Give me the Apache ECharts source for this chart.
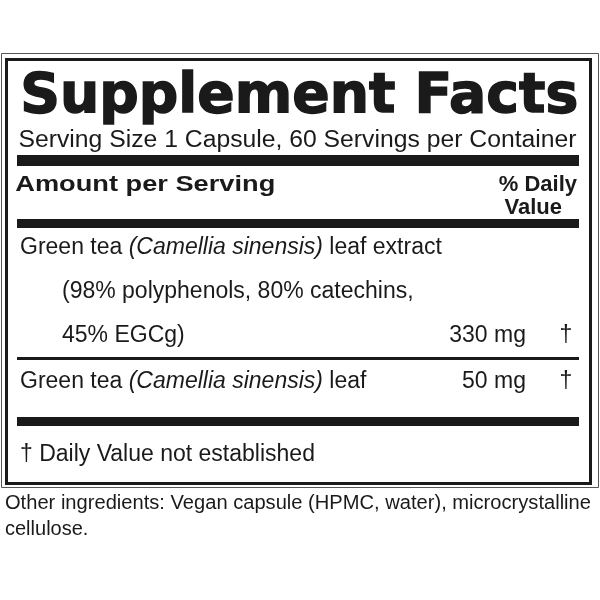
<!DOCTYPE html>
<html><head><meta charset="utf-8">
<script src="https://cdn.jsdelivr.net/npm/echarts@6/dist/echarts.min.js"></script>
<style>html,body{margin:0;padding:0;background:#fff}#c{width:600px;height:600px}</style>
</head><body><div id="c"></div>
<script>
const title = 'Supplement Facts';
const servingText = 'Serving Size 1 Capsule, 60 Servings per Container';
const headerLeft = 'Amount per Serving';
const headerRight = ['% Daily', 'Value'];
const ingredientLines = [
  ['Green tea ', '(Camellia sinensis)', ' leaf extract'],
  ['(98% polyphenols, 80% catechins,'],
  ['45% EGCg)']
];
const ingredient2 = ['Green tea ', '(Camellia sinensis)', ' leaf'];
const amounts = ['330 mg', '50 mg'];
const dailyValues = ['\u2020', '\u2020'];
const footnote = '\u2020 Daily Value not established';
const otherLines = ['Other ingredients: Vegan capsule (HPMC, water), microcrystalline', 'cellulose.'];

const INK = '#1a1a1a';
const FONT = '"Liberation Sans", Arial, sans-serif';
const cv = document.createElement('canvas').getContext('2d');
function fitScale(text, font, w) { cv.font = font; return w / cv.measureText(text).width; }

const g = [];
function txt(x, y, s, size, opt) {
  opt = opt || {};
  const weight = opt.weight || 'normal';
  const el = { type: 'text', x: x, y: y, style: { text: s, fill: INK, font: weight + ' ' + size + 'px ' + FONT, textAlign: opt.align || 'left', textVerticalAlign: 'bottom' } };
  if (opt.width) { el.scaleX = fitScale(s, weight + ' ' + size + 'px ' + FONT, opt.width); el.originX = x; el.originY = y; }
  g.push(el);
}
function rich(x, y, parts, size) {
  const f = size + 'px ' + FONT;
  g.push({ type: 'text', x: x, y: y, style: {
    text: parts.map((p, i) => '{' + (i % 2 ? 'i' : 'n') + '|' + p + '}').join(''),
    textVerticalAlign: 'bottom',
    rich: { n: { font: f, fill: INK }, i: { font: 'italic ' + f, fill: INK } } } });
}
function rect(x, y, w, h) { g.push({ type: 'rect', shape: { x: x, y: y, width: w, height: h }, style: { fill: INK } }); }

// borders
g.push({ type: 'rect', shape: { x: 1.5, y: 53.5, width: 597, height: 434 }, style: { fill: 'none', stroke: '#555', lineWidth: 1 } });
g.push({ type: 'rect', shape: { x: 6.5, y: 59.5, width: 584, height: 424 }, style: { fill: 'none', stroke: INK, lineWidth: 3 } });

// title
g.push({ type: 'text', x: 20, y: 125, scaleX: fitScale(title, '900 56px "DejaVu Sans"', 558), originX: 20, originY: 125,
  style: { text: title, fill: INK, font: '900 56px "DejaVu Sans"', textVerticalAlign: 'bottom', stroke: INK, lineWidth: 1.5 } });
txt(20, 152, servingText, 23, { width: 558 });
rect(17, 155, 562, 11);
txt(20, 196, headerLeft, 22, { weight: 'bold', width: 260 });
txt(577, 196, headerRight[0], 22, { weight: 'bold', align: 'right' });
txt(562, 219, headerRight[1], 22, { weight: 'bold', align: 'right' });
rect(17, 219, 562, 9);

rich(20, 259, ingredientLines[0], 23);
txt(62, 303, ingredientLines[1][0], 23);
txt(62, 347, ingredientLines[2][0], 23);
txt(526, 347, amounts[0], 23, { align: 'right' });
txt(566, 347, dailyValues[0], 23, { align: 'center' });
rect(17, 357, 562, 3);
rich(20, 393, ingredient2, 23);
txt(526, 393, amounts[1], 23, { align: 'right' });
txt(566, 393, dailyValues[1], 23, { align: 'center' });
rect(17, 417, 562, 9);
txt(20, 466, footnote, 23);
txt(5, 513, otherLines[0], 20, { width: 586 });
txt(5, 539, otherLines[1], 20);

const chart = echarts.init(document.getElementById('c'));
chart.setOption({ animation: false, graphic: { elements: g } });
</script></body></html>
